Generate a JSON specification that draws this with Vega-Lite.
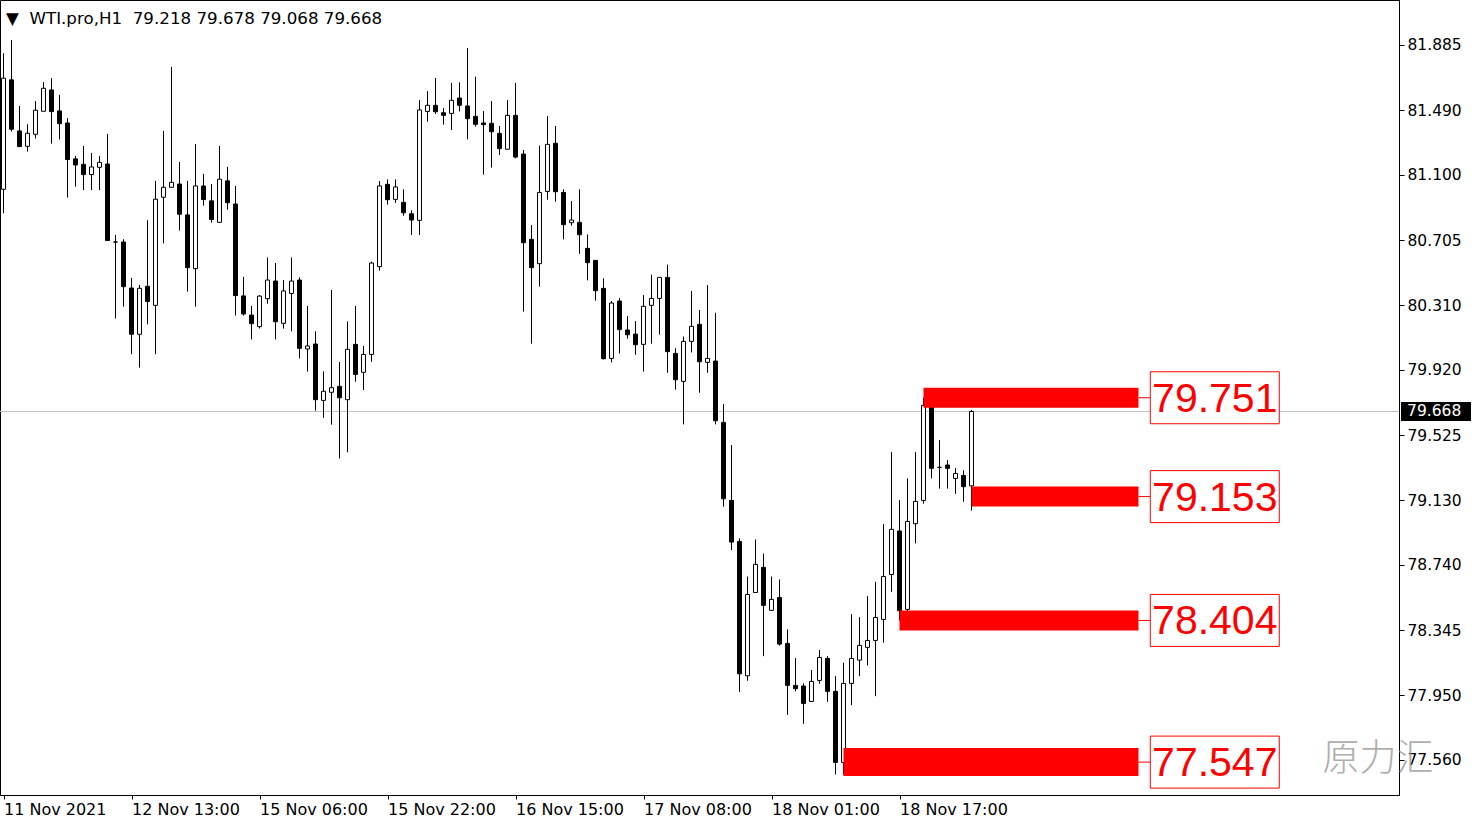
{
  "$schema": "https://vega.github.io/schema/vega-lite/v6.json",
  "width": 1399,
  "height": 795,
  "autosize": {"type": "none"},
  "padding": {"left": 0, "top": 0, "right": 82, "bottom": 32},
  "background": "white",
  "title": {
    "text": "▼\u00a0\u00a0WTI.pro,H1\u00a0\u00a079.218 79.678 79.068 79.668",
    "anchor": "start",
    "frame": "group",
    "orient": "top",
    "offset": 0,
    "dx": 6,
    "dy": 41,
    "baseline": "alphabetic",
    "font": "DejaVu Sans",
    "fontSize": 16.7,
    "fontWeight": "normal",
    "color": "black"
  },
  "config": {
    "view": {"stroke": "black", "strokeWidth": 1},
    "axis": {"grid": false, "domainColor": "black", "tickColor": "black", "labelColor": "black", "labelFont": "DejaVu Sans", "labelFontSize": 15.5}
  },
  "datasets": {
    "candles": [
      {"i":0,"o":81.012,"h":81.835,"l":80.867,"c":81.684},
      {"i":1,"o":81.674,"h":81.915,"l":81.361,"c":81.375},
      {"i":2,"o":81.365,"h":81.516,"l":81.270,"c":81.270},
      {"i":3,"o":81.272,"h":81.405,"l":81.240,"c":81.351},
      {"i":4,"o":81.345,"h":81.546,"l":81.319,"c":81.490},
      {"i":5,"o":81.484,"h":81.661,"l":81.484,"c":81.623},
      {"i":6,"o":81.613,"h":81.684,"l":81.288,"c":81.482},
      {"i":7,"o":81.486,"h":81.583,"l":81.313,"c":81.409},
      {"i":8,"o":81.413,"h":81.442,"l":80.962,"c":81.192},
      {"i":9,"o":81.196,"h":81.214,"l":81.028,"c":81.159},
      {"i":10,"o":81.163,"h":81.274,"l":81.008,"c":81.101},
      {"i":11,"o":81.101,"h":81.232,"l":81.008,"c":81.147},
      {"i":12,"o":81.145,"h":81.214,"l":81.008,"c":81.175},
      {"i":13,"o":81.165,"h":81.347,"l":80.702,"c":80.702},
      {"i":14,"o":80.693,"h":80.736,"l":80.230,"c":80.693},
      {"i":15,"o":80.693,"h":80.710,"l":80.302,"c":80.423},
      {"i":16,"o":80.415,"h":80.476,"l":80.014,"c":80.135},
      {"i":17,"o":80.135,"h":80.433,"l":79.933,"c":80.413},
      {"i":18,"o":80.425,"h":80.825,"l":80.195,"c":80.333},
      {"i":19,"o":80.310,"h":81.063,"l":80.014,"c":80.952},
      {"i":20,"o":80.964,"h":81.365,"l":80.685,"c":81.024},
      {"i":21,"o":81.024,"h":81.752,"l":81.024,"c":81.054},
      {"i":22,"o":81.044,"h":81.177,"l":80.762,"c":80.861},
      {"i":23,"o":80.857,"h":81.063,"l":80.393,"c":80.538},
      {"i":24,"o":80.532,"h":81.286,"l":80.302,"c":81.032},
      {"i":25,"o":81.032,"h":81.105,"l":80.913,"c":80.950},
      {"i":26,"o":80.942,"h":81.044,"l":80.810,"c":80.829},
      {"i":27,"o":80.812,"h":81.274,"l":80.812,"c":81.073},
      {"i":28,"o":81.063,"h":81.147,"l":80.889,"c":80.931},
      {"i":29,"o":80.923,"h":81.032,"l":80.248,"c":80.369},
      {"i":30,"o":80.367,"h":80.482,"l":80.248,"c":80.258},
      {"i":31,"o":80.251,"h":80.306,"l":80.104,"c":80.199},
      {"i":32,"o":80.181,"h":80.372,"l":80.170,"c":80.366},
      {"i":33,"o":80.350,"h":80.600,"l":80.320,"c":80.463},
      {"i":34,"o":80.457,"h":80.566,"l":80.104,"c":80.211},
      {"i":35,"o":80.201,"h":80.463,"l":80.169,"c":80.397},
      {"i":36,"o":80.382,"h":80.600,"l":80.153,"c":80.457},
      {"i":37,"o":80.463,"h":80.479,"l":79.989,"c":80.050},
      {"i":38,"o":80.046,"h":80.306,"l":79.909,"c":80.064},
      {"i":39,"o":80.076,"h":80.153,"l":79.673,"c":79.739},
      {"i":40,"o":79.735,"h":79.911,"l":79.630,"c":79.790},
      {"i":41,"o":79.784,"h":80.403,"l":79.588,"c":79.812},
      {"i":42,"o":79.820,"h":79.967,"l":79.384,"c":79.751},
      {"i":43,"o":79.739,"h":80.213,"l":79.421,"c":80.044},
      {"i":44,"o":80.074,"h":80.306,"l":79.848,"c":79.892},
      {"i":45,"o":79.905,"h":80.064,"l":79.798,"c":80.013},
      {"i":46,"o":80.013,"h":80.574,"l":79.969,"c":80.566},
      {"i":47,"o":80.544,"h":81.062,"l":80.520,"c":81.032},
      {"i":48,"o":81.042,"h":81.072,"l":80.919,"c":80.949},
      {"i":49,"o":80.951,"h":81.072,"l":80.929,"c":81.026},
      {"i":50,"o":80.933,"h":81.012,"l":80.852,"c":80.870},
      {"i":51,"o":80.864,"h":80.885,"l":80.735,"c":80.826},
      {"i":52,"o":80.824,"h":81.552,"l":80.735,"c":81.492},
      {"i":53,"o":81.483,"h":81.606,"l":81.421,"c":81.520},
      {"i":54,"o":81.520,"h":81.685,"l":81.467,"c":81.481},
      {"i":55,"o":81.475,"h":81.504,"l":81.403,"c":81.459},
      {"i":56,"o":81.471,"h":81.655,"l":81.371,"c":81.550},
      {"i":57,"o":81.564,"h":81.659,"l":81.483,"c":81.520},
      {"i":58,"o":81.516,"h":81.867,"l":81.314,"c":81.439},
      {"i":59,"o":81.453,"h":81.693,"l":81.391,"c":81.405},
      {"i":60,"o":81.413,"h":81.485,"l":81.100,"c":81.403},
      {"i":61,"o":81.411,"h":81.546,"l":81.143,"c":81.360},
      {"i":62,"o":81.350,"h":81.395,"l":81.219,"c":81.258},
      {"i":63,"o":81.254,"h":81.552,"l":81.254,"c":81.459},
      {"i":64,"o":81.459,"h":81.655,"l":81.199,"c":81.207},
      {"i":65,"o":81.225,"h":81.250,"l":80.272,"c":80.689},
      {"i":66,"o":80.709,"h":80.796,"l":80.078,"c":80.538},
      {"i":67,"o":80.562,"h":81.276,"l":80.423,"c":80.993},
      {"i":68,"o":80.999,"h":81.455,"l":80.949,"c":81.284},
      {"i":69,"o":81.290,"h":81.395,"l":80.937,"c":80.997},
      {"i":70,"o":80.993,"h":81.012,"l":80.709,"c":80.798},
      {"i":71,"o":80.810,"h":80.941,"l":80.792,"c":80.826},
      {"i":72,"o":80.812,"h":81.012,"l":80.622,"c":80.737},
      {"i":73,"o":80.655,"h":80.739,"l":80.461,"c":80.568},
      {"i":74,"o":80.582,"h":80.582,"l":80.338,"c":80.399},
      {"i":75,"o":80.413,"h":80.473,"l":79.983,"c":79.987},
      {"i":76,"o":79.989,"h":80.336,"l":79.965,"c":80.324},
      {"i":77,"o":80.336,"h":80.354,"l":80.019,"c":80.163},
      {"i":78,"o":80.161,"h":80.245,"l":80.108,"c":80.132},
      {"i":79,"o":80.136,"h":80.215,"l":80.011,"c":80.072},
      {"i":80,"o":80.074,"h":80.372,"l":79.909,"c":80.304},
      {"i":81,"o":80.310,"h":80.495,"l":80.078,"c":80.352},
      {"i":82,"o":80.352,"h":80.479,"l":80.132,"c":80.479},
      {"i":83,"o":80.479,"h":80.556,"l":79.902,"c":80.030},
      {"i":84,"o":80.019,"h":80.050,"l":79.800,"c":79.860},
      {"i":85,"o":79.850,"h":80.122,"l":79.590,"c":80.092},
      {"i":86,"o":80.092,"h":80.397,"l":80.025,"c":80.183},
      {"i":87,"o":80.195,"h":80.282,"l":79.781,"c":79.969},
      {"i":88,"o":79.965,"h":80.433,"l":79.902,"c":79.989},
      {"i":89,"o":79.973,"h":80.265,"l":79.590,"c":79.612},
      {"i":90,"o":79.602,"h":79.713,"l":79.092,"c":79.140},
      {"i":91,"o":79.130,"h":79.465,"l":78.830,"c":78.878},
      {"i":92,"o":78.882,"h":78.900,"l":77.971,"c":78.081},
      {"i":93,"o":78.069,"h":78.670,"l":78.039,"c":78.561},
      {"i":94,"o":78.573,"h":78.894,"l":78.573,"c":78.743},
      {"i":95,"o":78.725,"h":78.809,"l":78.188,"c":78.495},
      {"i":96,"o":78.465,"h":78.670,"l":78.465,"c":78.531},
      {"i":97,"o":78.543,"h":78.652,"l":78.251,"c":78.261},
      {"i":98,"o":78.265,"h":78.350,"l":77.833,"c":78.011},
      {"i":99,"o":78.011,"h":78.176,"l":77.975,"c":77.991},
      {"i":100,"o":78.007,"h":78.023,"l":77.779,"c":77.902},
      {"i":101,"o":77.914,"h":78.104,"l":77.914,"c":78.035},
      {"i":102,"o":78.041,"h":78.225,"l":78.021,"c":78.180},
      {"i":103,"o":78.174,"h":78.188,"l":77.912,"c":77.975},
      {"i":104,"o":77.975,"h":78.067,"l":77.472,"c":77.545},
      {"i":105,"o":77.545,"h":78.148,"l":77.472,"c":78.023},
      {"i":106,"o":78.023,"h":78.442,"l":77.892,"c":78.174},
      {"i":107,"o":78.164,"h":78.424,"l":78.067,"c":78.253},
      {"i":108,"o":78.241,"h":78.551,"l":78.132,"c":78.283},
      {"i":109,"o":78.283,"h":78.638,"l":77.946,"c":78.422},
      {"i":110,"o":78.410,"h":78.987,"l":78.269,"c":78.670},
      {"i":111,"o":78.682,"h":79.422,"l":78.577,"c":78.955},
      {"i":112,"o":78.945,"h":79.132,"l":78.404,"c":78.463},
      {"i":113,"o":78.471,"h":79.263,"l":78.422,"c":79.003},
      {"i":114,"o":78.989,"h":79.422,"l":78.870,"c":79.124},
      {"i":115,"o":79.130,"h":79.751,"l":79.110,"c":79.705},
      {"i":116,"o":79.711,"h":79.777,"l":79.263,"c":79.324},
      {"i":117,"o":79.330,"h":79.495,"l":79.201,"c":79.330},
      {"i":118,"o":79.344,"h":79.374,"l":79.201,"c":79.324},
      {"i":119,"o":79.263,"h":79.326,"l":79.170,"c":79.293},
      {"i":120,"o":79.281,"h":79.312,"l":79.122,"c":79.213},
      {"i":121,"o":79.218,"h":79.678,"l":79.068,"c":79.668}
    ],
    "levels": [
      {"price": 79.751, "start": 115, "label": "79.751"},
      {"price": 79.153, "start": 121, "label": "79.153"},
      {"price": 78.404, "start": 112, "label": "78.404"},
      {"price": 77.547, "start": 105, "label": "77.547"}
    ],
    "current": [
      {"price": 79.668, "label": "79.668"}
    ]
  },
  "layer": [
    {
      "data": {"name": "current"},
      "mark": {"type": "rule", "color": "#c0c0c0", "strokeWidth": 1},
      "encoding": {
        "y": {"field": "price", "type": "quantitative", "title": null,
          "scale": {"domain": [77.348, 82.157], "nice": false, "zero": false, "padding": 0},
          "axis": {"orient": "right", "values": [81.885, 81.49, 81.1, 80.705, 80.31, 79.92, 79.525, 79.13, 78.74, 78.345, 77.95, 77.56],
            "format": ".3f", "tickSize": 5, "labelPadding": 3, "labelAlign": "left", "labelBaseline": "middle", "labelOverlap": false, "labelFlush": false, "title": null}
        }
      }
    },
    {
      "data": {"name": "candles"},
      "mark": {"type": "rule", "color": "black", "strokeWidth": 1},
      "encoding": {
        "x": {"field": "i", "type": "quantitative", "title": null,
          "scale": {"domain": [-0.4375, 174.4375], "nice": false, "zero": false, "padding": 0},
          "axis": {"values": [0, 16, 32, 48, 64, 80, 96, 112],
            "labelExpr": "['11 Nov 2021','12 Nov 13:00','15 Nov 06:00','15 Nov 22:00','16 Nov 15:00','17 Nov 08:00','18 Nov 01:00','18 Nov 17:00'][round(datum.value/16)]",
            "tickSize": 4, "labelPadding": 2, "labelAlign": "left", "labelBaseline": "top", "labelFontSize": 16, "labelFlush": false, "labelOverlap": false, "labelBound": false, "title": null}
        },
        "y": {"field": "l", "type": "quantitative", "title": null},
        "y2": {"field": "h"}
      }
    },
    {
      "data": {"name": "candles"},
      "mark": {"type": "bar", "size": 4, "stroke": "black", "strokeWidth": 1},
      "encoding": {
        "x": {"field": "i", "type": "quantitative", "title": null},
        "y": {"field": "o", "type": "quantitative", "title": null},
        "y2": {"field": "c"},
        "fill": {"condition": {"test": "datum.c < datum.o", "value": "black"}, "value": "white"}
      }
    },
    {
      "data": {"name": "levels"},
      "mark": {"type": "rule", "color": "#ff0000", "strokeCap": "butt"},
      "encoding": {
        "x": {"field": "start", "type": "quantitative", "title": null},
        "x2": {"datum": 141.875},
        "y": {"field": "price", "type": "quantitative", "title": null},
        "strokeWidth": {"condition": {"test": "datum.price < 78", "value": 28}, "value": 20}
      }
    },
    {
      "data": {"name": "levels"},
      "mark": {"type": "rule", "color": "#ff0000", "strokeWidth": 1},
      "encoding": {
        "x": {"datum": 141.875},
        "x2": {"datum": 143.375},
        "y": {"field": "price", "type": "quantitative", "title": null}
      }
    },
    {
      "data": {"name": "levels"},
      "mark": {"type": "point", "shape": "M-1,-0.403H1V0.403H-1Z", "size": 16641, "filled": true, "fill": "white", "stroke": "#ff0000", "strokeWidth": 1, "opacity": 1},
      "encoding": {
        "x": {"datum": 151.41},
        "y": {"field": "price", "type": "quantitative", "title": null}
      }
    },
    {
      "data": {"name": "levels"},
      "mark": {"type": "text", "font": "Liberation Sans", "fontSize": 41, "color": "#ff0000", "align": "center", "baseline": "middle", "dy": 2},
      "encoding": {
        "x": {"datum": 151.41},
        "y": {"field": "price", "type": "quantitative", "title": null},
        "text": {"field": "label"}
      }
    },
    {
      "data": {"name": "current"},
      "mark": {"type": "point", "shape": "M-1,-0.27H1V0.27H-1Z", "size": 4900, "filled": true, "fill": "black", "opacity": 1},
      "encoding": {
        "x": {"datum": 179.06},
        "y": {"field": "price", "type": "quantitative", "title": null}
      }
    },
    {
      "data": {"name": "current"},
      "mark": {"type": "text", "font": "DejaVu Sans", "fontSize": 15.5, "color": "white", "align": "left", "baseline": "middle"},
      "encoding": {
        "x": {"datum": 175.44},
        "y": {"field": "price", "type": "quantitative", "title": null},
        "text": {"field": "label"}
      }
    },
    {
      "data": {"values": [{"wm": "原力汇", "price": 77.56}]},
      "mark": {"type": "text", "font": "Noto Sans CJK SC", "fontSize": 37, "color": "#9a9a9a", "opacity": 0.8, "align": "center", "baseline": "middle", "fontWeight": 300},
      "encoding": {
        "x": {"datum": 171.81},
        "y": {"field": "price", "type": "quantitative", "title": null},
        "text": {"field": "wm"}
      }
    }
  ]
}
